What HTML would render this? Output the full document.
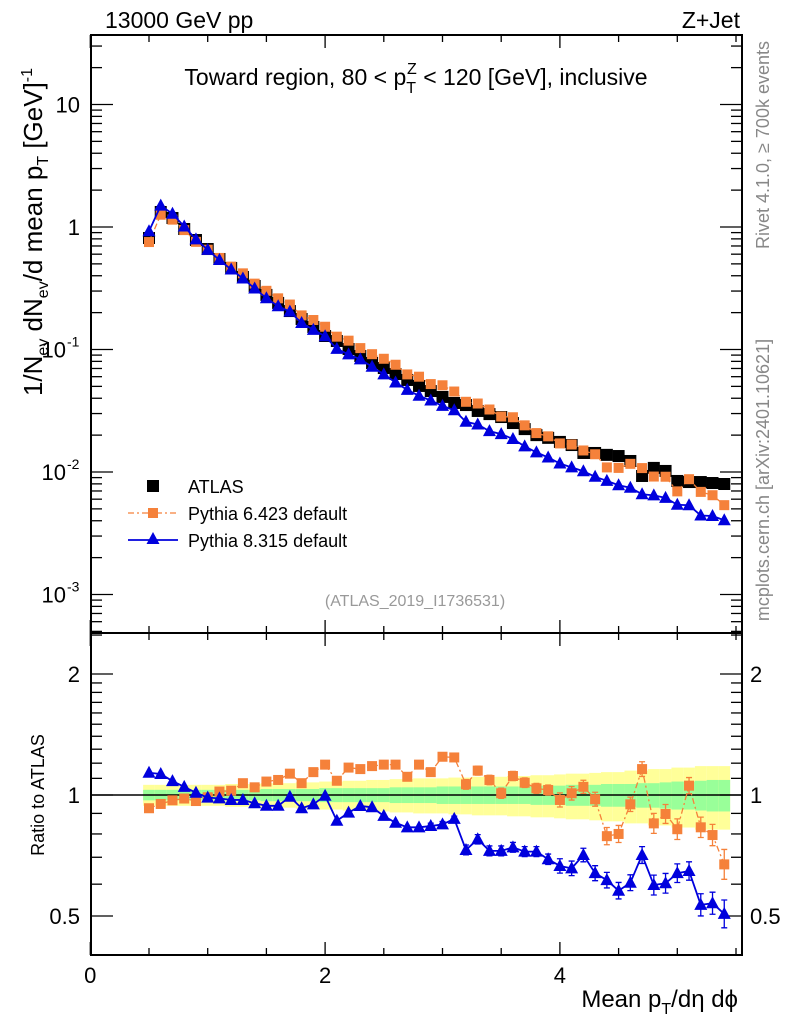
<!DOCTYPE html>
<html><head><meta charset="utf-8"><style>
body{margin:0;background:#fff}
svg{display:block;font-family:"Liberation Sans",sans-serif}
</style></head><body>
<svg id="c" width="786" height="1024" viewBox="0 0 786 1024"></svg>
<script>
const xs=[0.5,0.6,0.7,0.8,0.9,1.0,1.1,1.2,1.3,1.4,1.5,1.6,1.7,1.8,1.9,2.0,2.1,2.2,2.3,2.4,2.5,2.6,2.7,2.8,2.9,3.0,3.1,3.2,3.3,3.4,3.5,3.6,3.7,3.8,3.9,4.0,4.1,4.2,4.3,4.4,4.5,4.6,4.7,4.8,4.9,5.0,5.1,5.2,5.3,5.4];
const atlas=[0.813,1.326,1.184,0.963,0.783,0.661,0.548,0.463,0.391,0.330,0.279,0.240,0.206,0.1774,0.1527,0.1289,0.1173,0.1009,0.0885,0.0776,0.0706,0.0631,0.0564,0.0504,0.0458,0.0410,0.0366,0.0352,0.0315,0.0297,0.0281,0.0251,0.0224,0.0200,0.0190,0.0176,0.0166,0.0143,0.0143,0.0138,0.0135,0.0123,0.00928,0.0108,0.0102,0.00845,0.00828,0.00828,0.00813,0.00798];
const r6=[0.927,0.95,0.97,0.98,0.966,0.987,1.02,1.025,1.07,1.045,1.08,1.09,1.13,1.07,1.14,1.19,1.085,1.17,1.16,1.18,1.19,1.19,1.11,1.19,1.14,1.245,1.24,1.063,1.15,1.09,1.01,1.115,1.073,1.039,1.029,0.972,1.01,1.048,0.976,0.79,0.80,0.948,1.16,0.85,0.897,0.822,1.055,0.831,0.795,0.672];
const r8=[1.136,1.128,1.083,1.048,1.013,0.985,0.981,0.972,0.972,0.954,0.94,0.94,0.99,0.927,0.948,0.996,0.863,0.904,0.939,0.932,0.887,0.853,0.831,0.831,0.837,0.845,0.872,0.730,0.776,0.726,0.726,0.741,0.723,0.723,0.692,0.666,0.657,0.709,0.639,0.614,0.578,0.605,0.709,0.597,0.603,0.639,0.647,0.533,0.538,0.506];
const bandIn=[0.03,0.03,0.03,0.03,0.03,0.03,0.03,0.03,0.03,0.03,0.035,0.035,0.035,0.035,0.035,0.04,0.04,0.04,0.04,0.04,0.04,0.045,0.045,0.045,0.045,0.05,0.05,0.05,0.05,0.05,0.05,0.05,0.05,0.055,0.055,0.055,0.06,0.06,0.06,0.065,0.065,0.065,0.07,0.07,0.075,0.08,0.08,0.085,0.09,0.09];
const bandOut=[0.06,0.06,0.06,0.06,0.06,0.06,0.06,0.065,0.065,0.065,0.07,0.07,0.07,0.075,0.075,0.08,0.08,0.085,0.085,0.09,0.09,0.095,0.095,0.1,0.1,0.1,0.105,0.105,0.11,0.11,0.11,0.115,0.115,0.12,0.12,0.125,0.13,0.13,0.135,0.14,0.14,0.15,0.15,0.16,0.16,0.17,0.17,0.18,0.18,0.18];
const err6=[0,0,0,0,0,0,0,0,0,0,0,0,0,0,0,0,0,0,0,0,0,0,0,0,0.02,0.02,0.02,0.03,0.03,0.03,0.03,0.03,0.03,0.03,0.03,0.04,0.04,0.04,0.04,0.04,0.04,0.04,0.05,0.05,0.05,0.05,0.05,0.05,0.05,0.06];
const py6=atlas.map((v,i)=>v*r6[i]);
const py8=atlas.map((v,i)=>v*r8[i]);

const L=91,R=742,T=35,MB=633,RB=955;
const X=v=>90.3+117.4*v;
const YM=v=>227-122.5*Math.log10(v);
const YR=v=>795-121*Math.log2(v);
const svg=document.getElementById('c');
const NS='http://www.w3.org/2000/svg';
function el(tag,attrs,parent){const e=document.createElementNS(NS,tag);for(const k in attrs)e.setAttribute(k,attrs[k]);(parent||svg).appendChild(e);return e;}
function txt(s,attrs,name){const e=el('text',attrs);e.textContent=s;


return e;}

const gB=el('g',{});


xs.forEach((x,i)=>{
 const x0=X(x-0.05),x1=X(x+0.05);
 const y=el('rect',{x:x0,y:YR(1+bandOut[i]),width:x1-x0,height:YR(1-bandOut[i])-YR(1+bandOut[i]),fill:'#ffff99'},gB);
 
 
 const g=el('rect',{x:x0,y:YR(1+bandIn[i]),width:x1-x0,height:YR(1-bandIn[i])-YR(1+bandIn[i]),fill:'#99ff99'},gB);
 
 
});
const one=el('line',{x1:L,x2:R,y1:YR(1),y2:YR(1),stroke:'#000','stroke-width':1.5});



const f1=el('rect',{x:L,y:T,width:R-L,height:MB-T,fill:'none',stroke:'#000','stroke-width':2});


const f2=el('rect',{x:L,y:MB,width:R-L,height:RB-MB,fill:'none',stroke:'#000','stroke-width':2});



function tick(x1,y1,x2,y2){const t=el('line',{x1,y1,x2,y2,stroke:'#000','stroke-width':1.3});

}
for(let v=0;v<=5.5;v+=0.5){const x=X(v);if(x>R)break;const maj=Math.abs(v%2)<1e-6;const l=maj?13:7;
 tick(x,RB,x,RB-l);tick(x,MB,x,MB-l);tick(x,T,x,T+l);tick(x,MB,x,MB+l);}
for(let e=-4;e<=1;e++){for(let m=1;m<10;m++){const v=m*Math.pow(10,e);const y=YM(v);if(y<T||y>MB)continue;const l=m==1?22:11;
 tick(L,y,L+l,y);tick(R,y,R-l,y);}}
[0.4,0.5,0.6,0.7,0.8,0.9,1,1.1,1.2,1.3,1.4,1.5,1.6,1.7,1.8,1.9,2,2.5].forEach(v=>{const y=YR(v);if(y<MB||y>RB)return;const l=(v==0.5||v==1||v==2)?22:11;tick(L,y,L+l,y);tick(R,y,R-l,y);});

const xl=[0,2,4];
xl.forEach(v=>txt(String(v),{x:X(v),y:983,'font-size':22,'text-anchor':'middle'},'x-tick-label'));
const ml=[[10,'10'],[1,'1']];
ml.forEach(([v,s])=>txt(s,{x:80,y:YM(v)+8,'font-size':22,'text-anchor':'end'},'y-tick-label'));
[[0.1,-1],[0.01,-2],[0.001,-3]].forEach(([v,p])=>{txt('10',{x:66,y:YM(v)+8,'font-size':22,'text-anchor':'end'},'y-tick-label');
 txt(String(p),{x:67,y:YM(v)-3,'font-size':14,'text-anchor':'start'},'y-tick-exponent');});
const rl=[[2,'2'],[1,'1'],[0.5,'0.5']];
rl.forEach(([v,s])=>{txt(s,{x:80,y:YR(v)+8,'font-size':22,'text-anchor':'end'},'ratio-tick-label-left');
 txt(s,{x:750,y:YR(v)+8,'font-size':22,'text-anchor':'start'},'ratio-tick-label-right');});

function series(arrX,arrY,color,dash,marker,name,errs,noLine){
 const g=el('g',{});
 
 
 if(!noLine){
 const pts=arrX.map((x,i)=>X(x)+','+arrY[i]).join(' ');
 const pl=el('polyline',{points:pts,fill:'none',stroke:color,'stroke-width':dash?1.3:1.8},g);
 if(dash)pl.setAttribute('stroke-dasharray',dash);
 
 }
 arrX.forEach((x,i)=>{const cx=X(x),cy=arrY[i];let m;
  if(errs&&errs[i]){const e=el('path',{d:`M${cx},${cy-errs[i]}V${cy+errs[i]}M${cx-3},${cy-errs[i]}h6M${cx-3},${cy+errs[i]}h6`,stroke:color,'stroke-width':1.3,fill:'none'},g);
   
   }
  if(marker=='sq')m=el('rect',{x:cx-5,y:cy-5,width:10,height:10,fill:color},g);
  else if(marker=='bsq')m=el('rect',{x:cx-6,y:cy-6,width:12,height:12,fill:color},g);
  else m=el('path',{d:`M${cx},${cy-7}L${cx+6.5},${cy+5}L${cx-6.5},${cy+5}Z`,fill:color},g);
  
  });
}
const eR6=r6.map((v,i)=>YR(v)-YR(v+err6[i]));
const eR8=r8.map((v,i)=>YR(v)-YR(v+err6[i]*0.7));
series(xs,r6.map(YR),'#f5813a','6,3,2,3','sq','ratio-pythia6',eR6);
series(xs,r8.map(YR),'#0000dd',null,'tri','ratio-pythia8',eR8);

series(xs,atlas.map(YM),'#000',null,'bsq','atlas-data',null,true);
series(xs,py6.map(YM),'#f5813a','6,3,2,3','sq','pythia6-main');
series(xs,py8.map(YM),'#0000dd',null,'tri','pythia8-main');

const lg=el('g',{});


const l1=el('rect',{x:147,y:480,width:12,height:12,fill:'#000'},lg);


const l2=el('line',{x1:128,x2:178,y1:513,y2:513,stroke:'#f5813a','stroke-width':1.3,'stroke-dasharray':'6,3,2,3'},lg);


const l3=el('rect',{x:148,y:508,width:10,height:10,fill:'#f5813a'},lg);


const l4=el('line',{x1:128,x2:178,y1:540,y2:540,stroke:'#0000dd','stroke-width':1.8},lg);


const l5=el('path',{d:'M153,532L159.5,544L146.5,544Z',fill:'#0000dd'},lg);


txt('ATLAS',{x:188,y:493,'font-size':18},'legend-atlas-label');
txt('Pythia 6.423 default',{x:188,y:520,'font-size':18},'legend-pythia6-label');
txt('Pythia 8.315 default',{x:188,y:547,'font-size':18},'legend-pythia8-label');
</script>
<div style="position:absolute;left:0;top:0;width:786px;height:1024px;pointer-events:none">
<svg width="786" height="1024" style="position:absolute;left:0;top:0;font-family:'Liberation Sans',sans-serif">
<text x="105" y="28" font-size="23">13000 GeV pp</text>
<text x="740" y="28" font-size="23" text-anchor="end">Z+Jet</text>
<text x="416" y="85" font-size="23" text-anchor="middle">Toward region, 80 &lt; p<tspan font-size="16" dy="8">T</tspan><tspan font-size="16" dx="-9" dy="-19">Z</tspan><tspan dy="11"> &lt; 120 [GeV], inclusive</tspan></text>
<text x="415" y="606" font-size="16" fill="#999" text-anchor="middle">(ATLAS_2019_I1736531)</text>
<text transform="translate(42,232) rotate(-90)" font-size="26" text-anchor="middle">1/N<tspan font-size="16" dy="6">ev</tspan><tspan dy="-6"> dN</tspan><tspan font-size="16" dy="6">ev</tspan><tspan dy="-6">/d mean p</tspan><tspan font-size="16" dy="6">T</tspan><tspan dy="-6"> [GeV]</tspan><tspan font-size="16" dy="-10">-1</tspan></text>
<text transform="translate(44,795) rotate(-90)" font-size="18" text-anchor="middle">Ratio to ATLAS</text>
<text x="738" y="1007" font-size="24" text-anchor="end">Mean p<tspan font-size="16" dy="7">T</tspan><tspan dy="-7">/dη dϕ</tspan></text>
<text transform="translate(769,145) rotate(-90)" font-size="18" fill="#888" text-anchor="middle">Rivet 4.1.0, ≥ 700k events</text>
<text transform="translate(769,480) rotate(-90)" font-size="18" fill="#888" text-anchor="middle">mcplots.cern.ch [arXiv:2401.10621]</text>
</svg></div>
</body></html>
